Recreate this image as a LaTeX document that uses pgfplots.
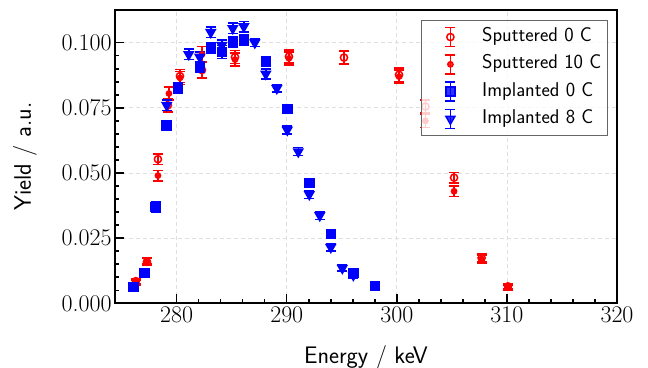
\documentclass[border=0pt]{standalone}
\usepackage{fontspec}
\usepackage{pgfplots}
\pgfplotsset{compat=1.18}
\usepackage{pgfplotstable}

\pgfplotstableread{
x y e
276.3 0.0085 0.0010
277.3 0.0159 0.0012
278.3 0.0553 0.0020
279.2 0.0760 0.0025
280.3 0.0872 0.0025
282.3 0.0895 0.0030
285.3 0.0945 0.0025
290.2 0.0947 0.0025
295.2 0.0943 0.0025
300.2 0.0877 0.0025
302.6 0.0755 0.0025
305.2 0.0482 0.0020
307.7 0.0174 0.0015
310.1 0.0065 0.0010
}\sputA

\pgfplotstableread{
x y e
276.3 0.0080 0.0010
277.3 0.0162 0.0012
278.3 0.0490 0.0020
279.3 0.0805 0.0025
280.3 0.0865 0.0025
282.3 0.0955 0.0030
285.3 0.0935 0.0025
290.2 0.0940 0.0025
300.2 0.0870 0.0025
302.6 0.0700 0.0025
305.2 0.0430 0.0020
307.7 0.0170 0.0015
310.1 0.0060 0.0010
}\sputB

\pgfplotstableread{
x y e
276.1 0.0063 0.0015
277.1 0.0117 0.0015
278.1 0.0370 0.0020
279.1 0.0683 0.0015
280.1 0.0825 0.0020
282.1 0.0905 0.0020
283.1 0.0980 0.0020
284.1 0.0965 0.0025
285.1 0.1003 0.0020
286.1 0.1010 0.0020
288.1 0.0928 0.0020
290.05 0.0745 0.0015
292.05 0.0462 0.0015
294.0 0.0265 0.0015
296.05 0.0117 0.0015
298.0 0.0067 0.0010
}\implA

\pgfplotstableread{
x y e
279.1 0.0760 0.0020
281.1 0.0955 0.0020
282.1 0.0945 0.0020
283.1 0.1040 0.0020
284.1 0.0990 0.0020
285.1 0.1055 0.0020
286.1 0.1062 0.0020
287.1 0.1000 0.0015
288.1 0.0880 0.0020
289.1 0.0825 0.0015
290.05 0.0665 0.0015
291.05 0.0582 0.0015
292.05 0.0418 0.0015
293.0 0.0337 0.0015
294.0 0.0215 0.0015
295.05 0.0135 0.0012
296.05 0.0108 0.0012
}\implB

\begin{document}
\begin{tikzpicture}
\begin{axis}[
  scale only axis, width=502bp, height=293.3bp,
  xmin=274.4, xmax=320, ymin=0, ymax=0.11255,
  xtick={280,290,300,310,320}, minor x tick num=4,
  ytick={0,0.025,0.05,0.075,0.1}, minor y tick num=4,
  scaled y ticks=false,
  /pgf/number format/assume math mode=true,
  yticklabel style={/pgf/number format/.cd, fixed, fixed zerofill, precision=3},
  tick label style={font=\rmfamily\fontsize{24}{28}\selectfont},
  xlabel={Energy / keV}, ylabel={Yield / a.u.},
  label style={font=\sffamily\fontsize{24}{28}\selectfont},
  xlabel style={at={(axis description cs:0.5,0)}, anchor=base, yshift=-60bp},
  ylabel style={at={(axis description cs:-0.1793,0.5)}, anchor=center},
  axis line style={line width=2bp},
  tick style={line width=1.5bp, black},
  major tick length=9bp, minor tick length=4.5bp,
  tick align=inside, xtick pos=bottom, ytick pos=left,
  grid=major, major grid style={gray!25, line width=0.8bp, dash pattern=on 4bp off 3bp},
  legend style={at={(rel axis cs:1,1)}, anchor=north east, xshift=-9bp, yshift=-10bp,
    draw=black!60, line width=1.5bp, fill=white, fill opacity=0.8, draw opacity=1, text opacity=1,
    font=\sffamily\fontsize{20}{23}\selectfont,
    inner xsep=3bp, inner ysep=6bp, row sep=6.7bp,
    nodes={inner xsep=3bp, inner ysep=0bp, text height=14bp, text depth=5bp}},
  legend cell align=left,
  legend image code/.code={
    \draw[#1, line width=1.6bp, solid] (25bp,-9.5bp) -- (25bp,9.5bp) (20bp,-9.5bp) -- (30bp,-9.5bp) (20bp,9.5bp) -- (30bp,9.5bp);
    \draw[#1] plot coordinates {(25bp,0bp)};
    \path (0bp,0bp) (53bp,0bp);
  },
  error bars/y dir=both, error bars/y explicit,
  error bars/error bar style={line width=1.5bp},
  error bars/error mark options={rotate=90, line width=1.5bp, mark size=5bp},
]
\addplot[red, only marks, mark=o, mark size=3.6bp, line width=1.5bp,
  error bars/error bar style={red, line width=1.5bp}]
  table[x=x, y=y, y error=e] {\sputA};
\addlegendentry{Sputtered 0 C}
\addplot[red, only marks, mark=*, mark size=2.6bp, line width=1.5bp,
  error bars/error bar style={red, line width=1.5bp}]
  table[x=x, y=y, y error=e] {\sputB};
\addlegendentry{Sputtered 10 C}
\addplot[blue, only marks, mark=square*, mark size=4.5bp, line width=1.5bp,
  error bars/error bar style={blue, line width=1.5bp}]
  table[x=x, y=y, y error=e] {\implA};
\addlegendentry{Implanted 0 C}
\addplot[blue, only marks, mark=triangle*, mark options={rotate=180}, mark size=5.2bp, line width=1.5bp,
  error bars/error bar style={blue, line width=1.5bp}]
  table[x=x, y=y, y error=e] {\implB};
\addlegendentry{Implanted 8 C}
\end{axis}
\pgfresetboundingbox
\path ([xshift=-115bp,yshift=-64.7bp]current axis.south west) rectangle ([xshift=31bp,yshift=10bp]current axis.north east);
\end{tikzpicture}
\end{document}
